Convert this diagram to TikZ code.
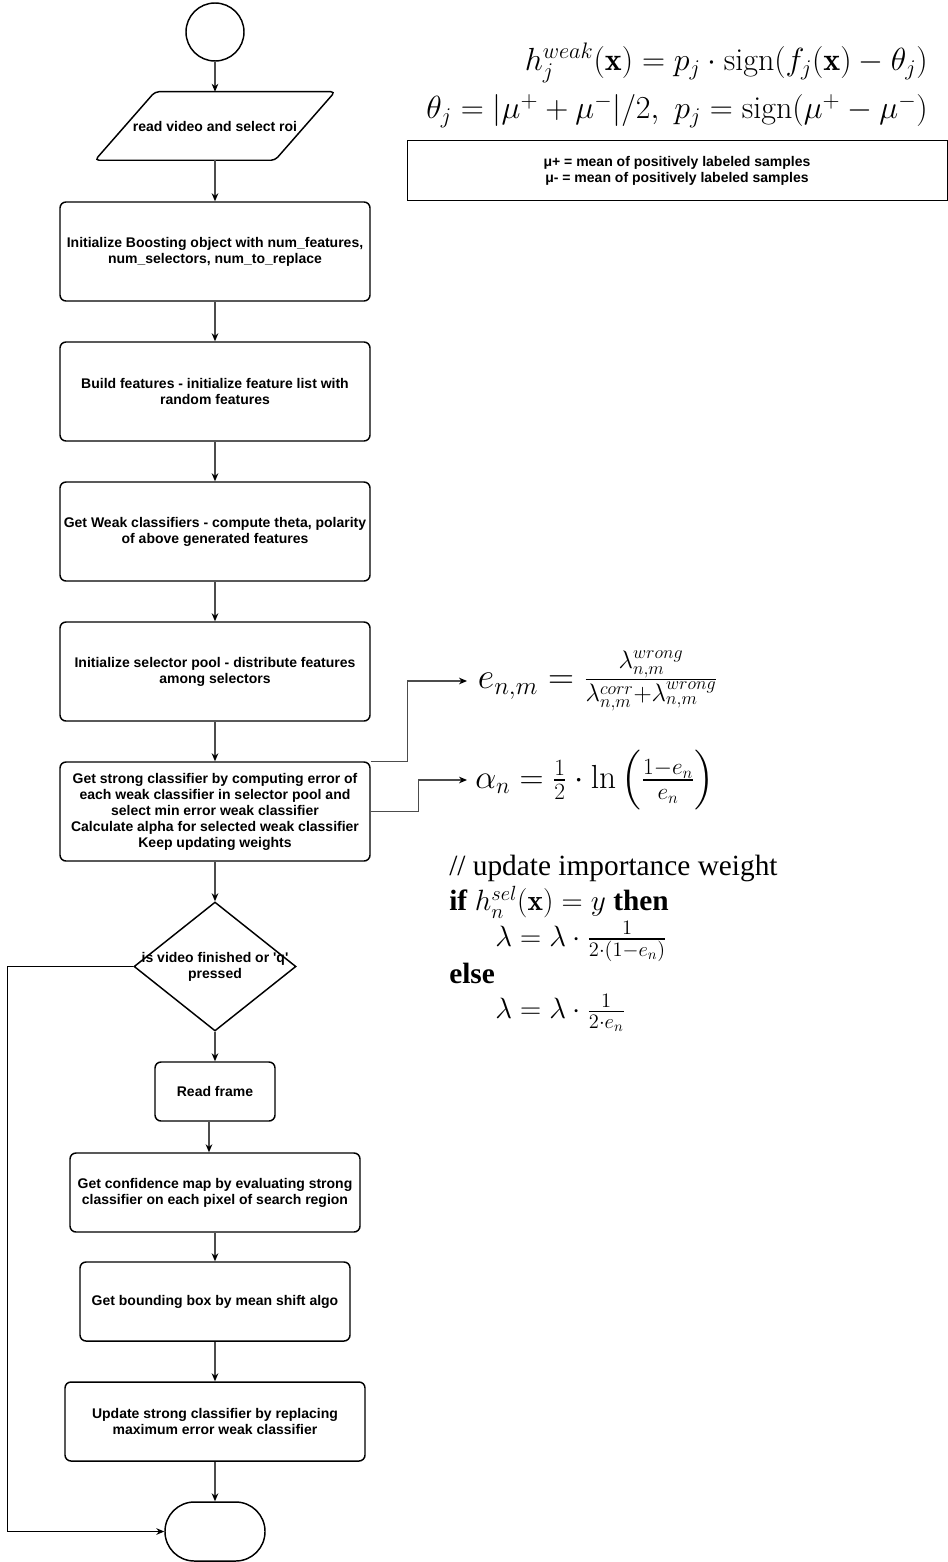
\RequirePackage{fix-cm}
\documentclass[tikz,border=0pt]{standalone}
\usepackage{fontspec}
\usepackage{amsmath}
\newfontfamily\boxfont{Liberation Sans}
\newfontfamily\pseudofont{Liberation Serif}
\usetikzlibrary{arrows.meta,shapes.geometric}

\begin{document}
\begin{tikzpicture}[
  x=0.75pt,y=-0.75pt,
  font=\boxfont\bfseries\fontsize{10.5}{12}\selectfont,
  process/.style={draw=black,line width=1.1pt,rounded corners=4.5pt,fill=white,
    align=center,inner sep=2pt},
  terminal/.style={draw=black,line width=1.1pt,fill=white},
  iobox/.style={draw=black,line width=1.1pt,rounded corners=3pt},
  decision/.style={diamond,draw=black,line width=1.1pt,inner sep=0pt},
  note/.style={draw=black,line width=0.75pt,align=center},
  formula/.style={font=\fontsize{24}{36}\selectfont,inner sep=0pt},
  pseudo/.style={font=\pseudofont\fontsize{22}{26.5}\selectfont,align=left,inner sep=0pt},
  edge/.style={-{Stealth[length=6pt,width=5pt,color=black]},line width=0.8pt,draw=black!70},
  loopedge/.style={edge,draw=black,line width=0.75pt}
]
  \useasboundingbox (0,0) rectangle (948,1562);

  % main flow
  \node[terminal,circle,minimum size=43.5pt] (start) at (215,32) {};
  \node[minimum width=180pt,minimum height=51pt,inner sep=0pt] (roi) at (215,126) {read video and select roi};
  \draw[iobox] ([xshift=-90pt]roi.south) -- ([xshift=-45pt]roi.north)
    -- ([xshift=90pt]roi.north) -- ([xshift=45pt]roi.south) -- cycle;
  \node[process,minimum width=232.5pt,minimum height=74.25pt] (boost) at (215,251.5)
    {Initialize Boosting object with num\_features,\\num\_selectors, num\_to\_replace};
  \node[process,minimum width=232.5pt,minimum height=74.25pt] (feat) at (215,391.5)
    {Build features - initialize feature list with\\random features};
  \node[process,minimum width=232.5pt,minimum height=74.25pt] (weak) at (215,531.5)
    {Get Weak classifiers - compute theta, polarity\\of above generated features};
  \node[process,minimum width=232.5pt,minimum height=74.25pt] (pool) at (215,671.5)
    {Initialize selector pool - distribute features\\among selectors};
  \node[process,minimum width=232.5pt,minimum height=74.25pt] (strong) at (215,811.5)
    {Get strong classifier by computing error of\\each weak classifier in selector pool and\\select min error weak classifier\\Calculate alpha for selected weak classifier\\Keep updating weights};
  \node[decision,minimum width=121.5pt,minimum height=96.75pt,
    label={[align=center]center:is video finished or \textquotesingle q\textquotesingle\\pressed}] (decide) at (215,966.5) {};
  \node[process,minimum width=90pt,minimum height=44.25pt] (read) at (215,1091.5) {Read frame};
  \node[process,minimum width=217.5pt,minimum height=59.25pt] (conf) at (215,1192.5)
    {Get confidence map by evaluating strong\\classifier on each pixel of search region};
  \node[process,minimum width=202.5pt,minimum height=59.25pt] (bbox) at (215,1301.5)
    {Get bounding box by mean shift algo};
  \node[process,minimum width=225pt,minimum height=59.25pt] (update) at (215,1421.5)
    {Update strong classifier by replacing\\maximum error weak classifier};
  \node[terminal,rounded corners=22pt,minimum width=75pt,minimum height=44.25pt] (stop) at (215,1531.5) {};

  % formulas
  \node[formula,anchor=east] (hweak) at (928,63)
    {$h_j^{weak}(\mathbf{x}) = p_j \cdot \mathrm{sign}(f_j(\mathbf{x}) - \theta_j)$};
  \node[formula,anchor=east] (theta) at (928,111)
    {$\theta_j = |\mu^+ + \mu^-|/2,\ p_j = \mathrm{sign}(\mu^+ - \mu^-)$};
  \node[note,minimum width=405pt,minimum height=45pt] (mu) at (677,171)
    {μ+ = mean of positively labeled samples\\μ- = mean of positively labeled samples};
  \node[formula,font=\fontsize{27}{36}\selectfont,anchor=west,inner xsep=8pt] (err) at (467,681)
    {$e_{n,m} = \frac{\lambda^{wrong}_{n,m}}{\lambda^{corr}_{n,m}+\lambda^{wrong}_{n,m}}$};
  \node[formula,font=\fontsize{25}{36}\selectfont,anchor=west,inner xsep=6pt] (alpha) at (467,780)
    {$\alpha_n = \frac{1}{2}\cdot\ln\left(\frac{1-e_n}{e_n}\right)$};
  \node[pseudo,anchor=north west] (rule) at (449,855)
    {// update importance weight\\
     \textbf{if} $h_n^{sel}(\mathbf{x}) = y$ \textbf{then}\\
     \hspace*{34.5pt}$\lambda = \lambda\cdot\frac{1}{2\cdot(1-e_n)}$\\
     \textbf{else}\\
     \hspace*{34.5pt}$\lambda = \lambda\cdot\frac{1}{2\cdot e_n}$};

  \draw[edge] (start) -- (roi);
  \draw[edge] (roi) -- (boost);
  \draw[edge] (boost) -- (feat);
  \draw[edge] (feat) -- (weak);
  \draw[edge] (weak) -- (pool);
  \draw[edge] (pool) -- (strong);
  \draw[edge] (strong) -- (decide);
  \draw[edge] (decide) -- (read);
  \draw[edge] ([xshift=-4.5pt]read.south) -- ([xshift=-4.5pt]conf.north);
  \draw[edge] (conf) -- (bbox);
  \draw[edge] (bbox) -- (update);
  \draw[edge] (update) -- (stop);
  \draw[loopedge] (decide.west) -- ++(-126,0) |- (stop.west);

  \draw[edge] (strong.north east) -- ++(37,0) |- (err.west);
  \draw[edge] (strong.east) -- ++(48,0) |- (alpha.west);
\end{tikzpicture}
\end{document}
